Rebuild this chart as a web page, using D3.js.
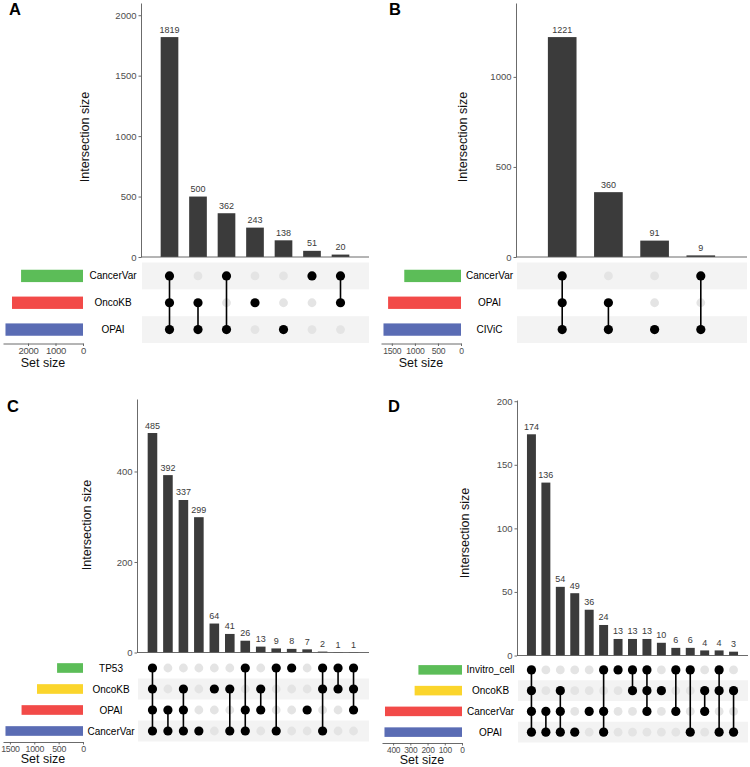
<!DOCTYPE html>
<html><head><meta charset="utf-8">
<script src="https://cdn.jsdelivr.net/npm/d3@7"></script>
<style>body{margin:0;background:#fff} svg{display:block}</style>
</head><body>
<svg id="chart" width="750" height="767"></svg>
<script>
// ---------- Panel A ----------
const setsA = ["CancerVar", "OncoKB", "OPAI"];
const setSizesA = [2252, 2582, 2819];
const setColorsA = ["#5cbd58", "#f24a48", "#5a6cb4"];
const valuesA = [1819, 500, 362, 243, 138, 51, 20];
const membersA = [[0,1,2],[1,2],[0,2],[1],[2],[0],[0,1]];
const yTicksA = [0, 500, 1000, 1500, 2000];
const setTicksA = [0, 1000, 2000];

// ---------- Panel B ----------
const setsB = ["CancerVar", "OPAI", "CIViC"];
const setSizesB = [1230, 1581, 1681];
const setColorsB = ["#5cbd58", "#f24a48", "#5a6cb4"];
const valuesB = [1221, 360, 91, 9];
const membersB = [[0,1,2],[1,2],[2],[0,2]];
const yTicksB = [0, 500, 1000];
const setTicksB = [0, 500, 1000, 1500];

// ---------- Panel C ----------
const setsC = ["TP53", "OncoKB", "OPAI", "CancerVar"];
const setSizesC = [532, 944, 1261, 1591];
const setColorsC = ["#5cbd58", "#fbd52c", "#f24a48", "#5a6cb4"];
const valuesC = [485, 392, 337, 299, 64, 41, 26, 13, 9, 8, 7, 2, 1, 1];
const membersC = [[0,1,2,3],[2,3],[1,2,3],[3],[1],[1,3],[0,2,3],[1,2],[0,3],[0],[2],[0,1,3],[0,1],[0,1,2]];
const yTicksC = [0, 200, 400];
const setTicksC = [0, 500, 1000, 1500];

// ---------- Panel D ----------
const setsD = ["Invitro_cell", "OncoKB", "CancerVar", "OPAI"];
const setSizesD = [253, 275, 447, 450];
const setColorsD = ["#5cbd58", "#fbd52c", "#f24a48", "#5a6cb4"];
const valuesD = [174, 136, 54, 49, 36, 24, 13, 13, 13, 10, 6, 6, 4, 4, 3];
const membersD = [[0,1,2,3],[2,3],[1,2,3],[3],[2],[0,2,3],[0],[0,1],[0,1,2],[1],[0,2],[0,3],[1,2],[0,1,3],[1,3]];
const yTicksD = [0, 50, 100, 150, 200];
const setTicksD = [0, 100, 200, 300, 400];

const FONT = "'Liberation Sans', Arial, Helvetica, sans-serif";
const svg = d3.select("#chart").style("font-family", FONT);

const panels = [
  {letter:"A", sets:setsA, sizes:setSizesA, colors:setColorsA, values:valuesA, members:membersA, yTicks:yTicksA, setTicks:setTicksA,
   L:{lx:9, ly:15, axisX:141, yTop:3, yZero:257, matRight:369, matTop:262.5, matBottom:343, setRight:83, titleX:85, titleY:137, setTitleY:367, sFs:9.5}},
  {letter:"B", sets:setsB, sizes:setSizesB, colors:setColorsB, values:valuesB, members:membersB, yTicks:yTicksB, setTicks:setTicksB,
   L:{lx:389, ly:15, axisX:516, yTop:3, yZero:257, matRight:747, matTop:262.5, matBottom:343, setRight:461, titleX:463, titleY:137, setTitleY:367, sFs:8.6}},
  {letter:"C", sets:setsC, sizes:setSizesC, colors:setColorsC, values:valuesC, members:membersC, yTicks:yTicksC, setTicks:setTicksC,
   L:{lx:7, ly:412, axisX:137, yTop:399, yZero:652.5, matRight:369, matTop:657.5, matBottom:741.5, setRight:83, titleX:87, titleY:525, setTitleY:763, sFs:8.8}},
  {letter:"D", sets:setsD, sizes:setSizesD, colors:setColorsD, values:valuesD, members:membersD, yTicks:yTicksD, setTicks:setTicksD,
   L:{lx:388, ly:412, axisX:517, yTop:400, yZero:655.5, matRight:748, matTop:659.5, matBottom:742.5, setRight:462, titleX:465, titleY:533, setTitleY:764, sFs:8.4}}
];

function styleAxis(sel) {
  sel.select(".domain").attr("stroke", "#5a5a5a").attr("stroke-width", 0.9);
  sel.selectAll(".tick line").attr("stroke", "#5a5a5a").attr("stroke-width", 0.9);
  sel.selectAll(".tick text").attr("fill", "#4d4d4d").style("font-family", FONT);
}

panels.forEach(p => {
  const L = p.L;
  const g = svg.append("g");
  const n = p.values.length;

  // Panel letter
  g.append("text").attr("x", L.lx).attr("y", L.ly).text(p.letter)
    .attr("font-size", 16.5).attr("font-weight", "bold").attr("fill", "#000");

  // Scales
  const y = d3.scaleLinear().domain([0, d3.max(p.values) * 1.155]).range([L.yZero, L.yTop]);
  const x = d3.scalePoint().domain(d3.range(n)).range([L.axisX, L.matRight]).padding(1);
  const bw = x.step() * 0.62;
  const row = d3.scaleBand().domain(d3.range(p.sets.length)).range([L.matTop, L.matBottom]);
  const rc = i => row(i) + row.bandwidth() / 2;

  // Matrix background stripes (bottom row grey, alternating)
  const ns = p.sets.length;
  g.selectAll(".stripe").data(d3.range(ns).filter(i => (ns - 1 - i) % 2 === 0)).join("rect")
    .attr("x", L.axisX + 1).attr("width", L.matRight - L.axisX - 1)
    .attr("y", i => row(i)).attr("height", row.bandwidth())
    .attr("fill", "#f3f3f3");

  // Intersection bars
  g.selectAll(".bar").data(p.values).join("rect")
    .attr("x", (d, i) => x(i) - bw / 2).attr("y", d => y(d))
    .attr("width", bw).attr("height", d => y(0) - y(d))
    .attr("fill", "#3b3b3b");

  // Bar value labels
  g.selectAll(".blab").data(p.values).join("text")
    .attr("x", (d, i) => x(i)).attr("y", d => y(d) - 4.5)
    .attr("text-anchor", "middle").attr("font-size", 9).attr("fill", "#3a3a3a")
    .text(d => d);

  // Y axis
  const yAx = g.append("g").attr("transform", `translate(${L.axisX},0)`)
    .call(d3.axisLeft(y).tickValues(p.yTicks).tickFormat(d3.format("d")).tickSize(2.5).tickSizeOuter(0).tickPadding(2))
    .attr("font-size", 9.5);
  styleAxis(yAx);

  // Bottom x line
  g.append("line").attr("x1", L.axisX).attr("x2", L.matRight)
    .attr("y1", y(0)).attr("y2", y(0)).attr("stroke", "#5a5a5a").attr("stroke-width", 0.9);

  // Intersection size title
  g.append("text").attr("transform", `translate(${L.titleX},${L.titleY}) rotate(-90)`)
    .attr("text-anchor", "middle").attr("dominant-baseline", "central")
    .attr("font-size", 12.5).attr("fill", "#111").text("Intersection size");

  // Matrix dots
  const cells = [];
  p.values.forEach((v, c) => p.sets.forEach((s, r) => cells.push({c, r, on: p.members[c].includes(r)})));
  g.selectAll(".gdot").data(cells.filter(d => !d.on)).join("circle")
    .attr("cx", d => x(d.c)).attr("cy", d => rc(d.r)).attr("r", 4.4).attr("fill", "#e4e4e4");
  // Connecting lines
  g.selectAll(".conn").data(p.members.map((m, c) => ({c, m})).filter(d => d.m.length > 1)).join("line")
    .attr("x1", d => x(d.c)).attr("x2", d => x(d.c))
    .attr("y1", d => rc(d3.min(d.m))).attr("y2", d => rc(d3.max(d.m)))
    .attr("stroke", "#000").attr("stroke-width", 1.6);
  g.selectAll(".bdot").data(cells.filter(d => d.on)).join("circle")
    .attr("cx", d => x(d.c)).attr("cy", d => rc(d.r)).attr("r", 4.6).attr("fill", "#000");

  // Set names
  g.selectAll(".sname").data(p.sets).join("text")
    .attr("x", (L.setRight + L.axisX) / 2 + 1).attr("y", (d, i) => rc(i))
    .attr("text-anchor", "middle").attr("dominant-baseline", "central")
    .attr("font-size", 10).attr("fill", "#000").text(d => d);

  // Set size bars
  const sx = d3.scaleLinear().domain([0, d3.max(p.sizes) * 1.032]).range([L.setRight, L.setRight - 80]);
  const bh = row.bandwidth() * 0.46;
  g.selectAll(".sbar").data(p.sizes).join("rect")
    .attr("x", d => sx(d)).attr("width", d => sx(0) - sx(d))
    .attr("y", (d, i) => rc(i) - bh / 2).attr("height", bh)
    .attr("fill", (d, i) => p.colors[i]);

  // Set size axis
  const sAx = g.append("g").attr("transform", `translate(0,${L.matBottom + 0.5})`)
    .call(d3.axisBottom(sx).tickValues(p.setTicks).tickFormat(d3.format("d")).tickSize(2.5).tickSizeOuter(0).tickPadding(1.5))
    .attr("font-size", L.sFs);
  styleAxis(sAx);
  sAx.selectAll(".tick text").attr("letter-spacing", -0.25);

  g.append("text").attr("x", L.setRight - 40).attr("y", L.setTitleY)
    .attr("text-anchor", "middle").attr("font-size", 12.5).attr("fill", "#111").text("Set size");
});
</script>
</body></html>
